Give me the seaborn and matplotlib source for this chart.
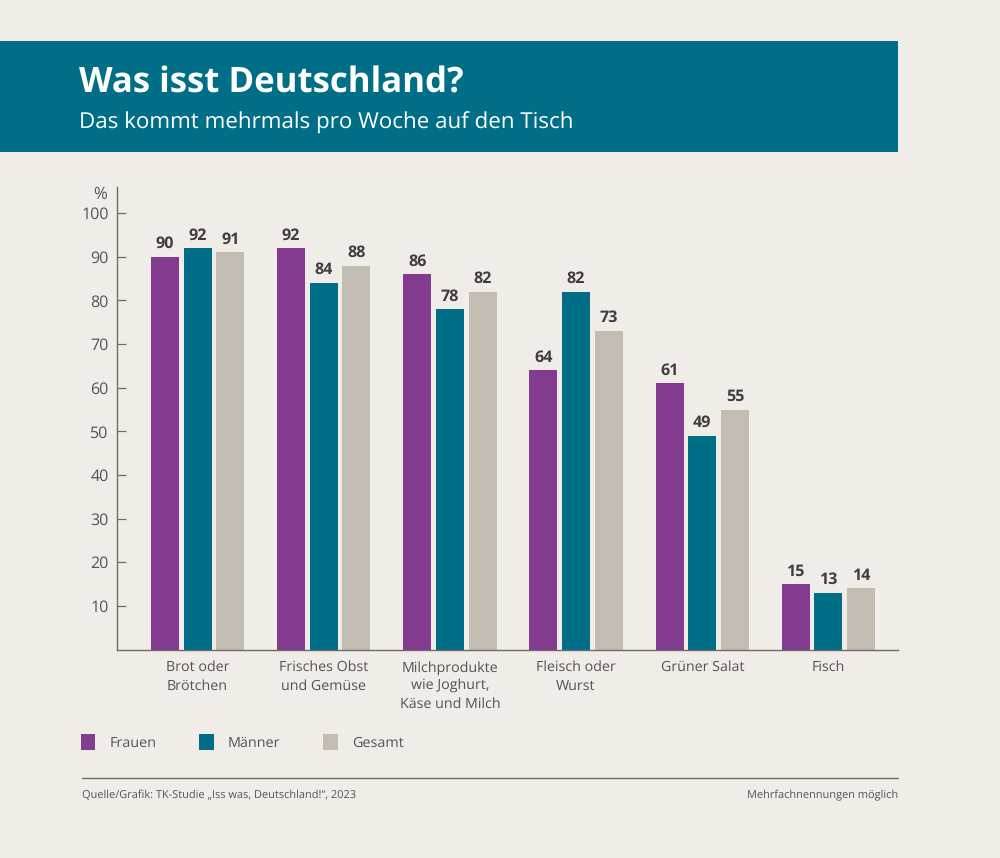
import matplotlib
matplotlib.use("Agg")
import matplotlib.pyplot as plt
import pandas as pd
import seaborn as sns
from matplotlib.patches import Rectangle

# Data
categories = ["Brot oder\nBrötchen", "Frisches Obst\nund Gemüse", "Milchprodukte\nwie Joghurt,\nKäse und Milch",
              "Fleisch oder\nWurst", "Grüner Salat", "Fisch"]
frauen = [90, 92, 86, 64, 61, 15]
maenner = [92, 84, 78, 82, 49, 13]
gesamt = [91, 88, 82, 73, 55, 14]
y_ticks = [10, 20, 30, 40, 50, 60, 70, 80, 90, 100]

# Colours
BG = "#F0EDE9"
PURPLE = "#833B8F"
TEAL = "#006E87"
GREY = "#C3BCB2"
TEXT = "#55524F"
DARK = "#403E3C"
LINE = "#6F6B67"

W, H = 1000, 858

sns.set_theme(style="white")
plt.rcParams["font.family"] = ["Open Sans", "DejaVu Sans"]
plt.rcParams["text.hinting"] = "no_hinting"

df = pd.DataFrame({"Kategorie": categories, "Frauen": frauen, "Männer": maenner, "Gesamt": gesamt})
long_df = df.melt(id_vars="Kategorie", var_name="Gruppe", value_name="Prozent")

fig = plt.figure(figsize=(10, 8.58), dpi=100, facecolor=BG)

# Header band
fig.add_artist(Rectangle((0, 1 - 151.5 / H), 898 / W, 110.5 / H, transform=fig.transFigure,
                         facecolor=TEAL, edgecolor="none"))
fig.text(79 / W, 1 - 83 / H, "Was isst Deutschland?", color="white", fontsize=25,
         fontweight="bold", va="center", ha="left")
fig.text(79 / W, 1 - 122.5 / H, "Das kommt mehrmals pro Woche auf den Tisch", color="white",
         fontsize=16.1, va="center", ha="left")

# Main plot
ax = fig.add_axes([117 / W, 1 - 649.5 / H, 781 / W, 462.5 / H], facecolor=BG)
sns.barplot(data=long_df, x="Kategorie", y="Prozent", hue="Gruppe",
            palette=[PURPLE, TEAL, GREY], width=0.778, gap=0.145, saturation=1, linewidth=0, ax=ax)

ax.set_xlim(-0.638, 5.551)
ax.set_ylim(0, 106)
ax.set_xlabel("")
ax.set_ylabel("")
ax.set_yticks(y_ticks)
ax.tick_params(axis="y", direction="in", length=6.5, width=0.9, color=LINE, labelcolor=TEXT,
               labelsize=11.5, pad=6, left=True)
ax.tick_params(axis="x", length=0, labelcolor=TEXT, labelsize=10.3, pad=8)
for lbl in ax.get_xticklabels():
    lbl.set_linespacing(1.42)

sns.despine(ax=ax)
for side in ["left", "bottom"]:
    ax.spines[side].set_color(LINE)
    ax.spines[side].set_linewidth(1.0)

for container in ax.containers:
    ax.bar_label(container, padding=3.5, fontsize=11.6, fontweight="bold", color=DARK)

fig.text(107 / W, 1 - 194 / H, "%", color=TEXT, fontsize=12, ha="right", va="center")

# Legend
handles, labels = ax.get_legend_handles_labels()
ax.legend(handles, labels, ncol=3, frameon=False, loc="center left",
          bbox_to_anchor=(81 / W, 1 - 742.5 / H), bbox_transform=fig.transFigure,
          fontsize=10.4, labelcolor=TEXT, borderpad=0, borderaxespad=0,
          handlelength=1.0, handleheight=1.3, handletextpad=0.95, columnspacing=3.0)

# Footer
fig.add_artist(plt.Line2D([82 / W, 898 / W], [1 - 778 / H, 1 - 778 / H], color=LINE, linewidth=1.0,
                          transform=fig.transFigure))
fig.text(82 / W, 1 - 795 / H, "Quelle/Grafik: TK-Studie „Iss was, Deutschland!“, 2023", color=TEXT,
         fontsize=7.9, ha="left", va="center")
fig.text(898 / W, 1 - 795 / H, "Mehrfachnennungen möglich", color=TEXT, fontsize=7.9, ha="right", va="center")

fig.savefig("out.png", dpi=100, facecolor=BG)
